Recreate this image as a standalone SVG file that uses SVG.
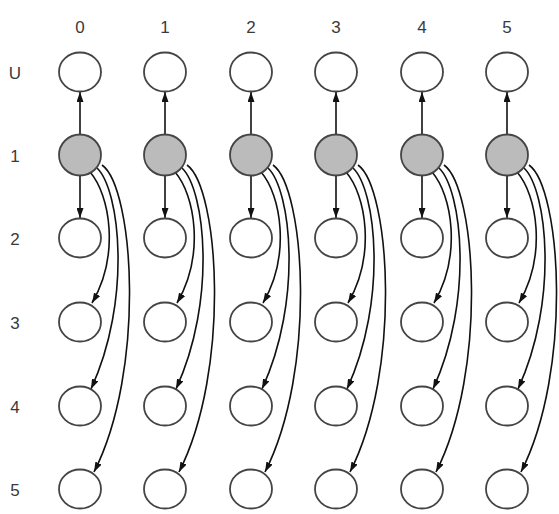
<svg xmlns="http://www.w3.org/2000/svg" width="559" height="514" viewBox="0 0 559 514">
  <defs>
    <marker id="arrow" markerUnits="userSpaceOnUse" markerWidth="10" markerHeight="7" refX="10" refY="3.5" orient="auto">
      <path d="M0,0 L10,3.5 L0,7 z" fill="#111"/>
    </marker>
    <style>
      .lbl { font-family: "Liberation Sans", Arial, sans-serif; font-size: 17px; fill: #3a3a3a; text-anchor: middle; }
      .node { fill: #fff; stroke: #444; stroke-width: 1.8; }
      .src { fill: #bbb; stroke: #444; stroke-width: 1.8; }
      .edge { fill: none; stroke: #111; stroke-width: 1.6; marker-end: url(#arrow); }
    </style>
    <!-- the five edges leaving a shaded node, drawn for column 0 -->
    <g id="fan">
      <path class="edge" d="M80,134 L80,92"/>
      <path class="edge" d="M80,175 L80,218"/>
      <path class="edge" d="M90,172 C110,195 120,255 92,303"/>
      <path class="edge" d="M97,168 C120,190 132,300 91,389"/>
      <path class="edge" d="M102,165 C134,188 146,370 94,472"/>
    </g>
  </defs>
  <rect width="559" height="514" fill="#fff"/>

  <!-- column headers -->
  <g id="col-labels">
    <text class="lbl" x="80" y="33">0</text>
    <text class="lbl" x="165" y="33">1</text>
    <text class="lbl" x="251" y="33">2</text>
    <text class="lbl" x="336" y="33">3</text>
    <text class="lbl" x="422" y="33">4</text>
    <text class="lbl" x="507" y="33">5</text>
  </g>

  <!-- row headers -->
  <g id="row-labels">
    <text class="lbl" x="15" y="79">U</text>
    <text class="lbl" x="15" y="162">1</text>
    <text class="lbl" x="15" y="245">2</text>
    <text class="lbl" x="15" y="329">3</text>
    <text class="lbl" x="15" y="413">4</text>
    <text class="lbl" x="15" y="496">5</text>
  </g>

  <!-- connectors: each shaded node points up to row U and down to rows 2-5 -->
  <g id="connectors">
    <use href="#fan" x="0"/>
    <use href="#fan" x="85"/>
    <use href="#fan" x="171"/>
    <use href="#fan" x="256"/>
    <use href="#fan" x="342"/>
    <use href="#fan" x="427"/>
  </g>

  <!-- nodes, one column per group -->
  <g id="col-0">
    <ellipse id="n0-U" class="node" cx="80" cy="72" rx="21" ry="19.5"/>
    <ellipse id="n0-1" class="src" cx="80" cy="155" rx="21" ry="20.5"/>
    <ellipse id="n0-2" class="node" cx="80" cy="238" rx="21" ry="19.5"/>
    <ellipse id="n0-3" class="node" cx="80" cy="322" rx="21" ry="19.5"/>
    <ellipse id="n0-4" class="node" cx="80" cy="406" rx="21" ry="19.5"/>
    <ellipse id="n0-5" class="node" cx="80" cy="489" rx="21" ry="19.5"/>
  </g>
  <g id="col-1">
    <ellipse id="n1-U" class="node" cx="165" cy="72" rx="21" ry="19.5"/>
    <ellipse id="n1-1" class="src" cx="165" cy="155" rx="21" ry="20.5"/>
    <ellipse id="n1-2" class="node" cx="165" cy="238" rx="21" ry="19.5"/>
    <ellipse id="n1-3" class="node" cx="165" cy="322" rx="21" ry="19.5"/>
    <ellipse id="n1-4" class="node" cx="165" cy="406" rx="21" ry="19.5"/>
    <ellipse id="n1-5" class="node" cx="165" cy="489" rx="21" ry="19.5"/>
  </g>
  <g id="col-2">
    <ellipse id="n2-U" class="node" cx="251" cy="72" rx="21" ry="19.5"/>
    <ellipse id="n2-1" class="src" cx="251" cy="155" rx="21" ry="20.5"/>
    <ellipse id="n2-2" class="node" cx="251" cy="238" rx="21" ry="19.5"/>
    <ellipse id="n2-3" class="node" cx="251" cy="322" rx="21" ry="19.5"/>
    <ellipse id="n2-4" class="node" cx="251" cy="406" rx="21" ry="19.5"/>
    <ellipse id="n2-5" class="node" cx="251" cy="489" rx="21" ry="19.5"/>
  </g>
  <g id="col-3">
    <ellipse id="n3-U" class="node" cx="336" cy="72" rx="21" ry="19.5"/>
    <ellipse id="n3-1" class="src" cx="336" cy="155" rx="21" ry="20.5"/>
    <ellipse id="n3-2" class="node" cx="336" cy="238" rx="21" ry="19.5"/>
    <ellipse id="n3-3" class="node" cx="336" cy="322" rx="21" ry="19.5"/>
    <ellipse id="n3-4" class="node" cx="336" cy="406" rx="21" ry="19.5"/>
    <ellipse id="n3-5" class="node" cx="336" cy="489" rx="21" ry="19.5"/>
  </g>
  <g id="col-4">
    <ellipse id="n4-U" class="node" cx="422" cy="72" rx="21" ry="19.5"/>
    <ellipse id="n4-1" class="src" cx="422" cy="155" rx="21" ry="20.5"/>
    <ellipse id="n4-2" class="node" cx="422" cy="238" rx="21" ry="19.5"/>
    <ellipse id="n4-3" class="node" cx="422" cy="322" rx="21" ry="19.5"/>
    <ellipse id="n4-4" class="node" cx="422" cy="406" rx="21" ry="19.5"/>
    <ellipse id="n4-5" class="node" cx="422" cy="489" rx="21" ry="19.5"/>
  </g>
  <g id="col-5">
    <ellipse id="n5-U" class="node" cx="507" cy="72" rx="21" ry="19.5"/>
    <ellipse id="n5-1" class="src" cx="507" cy="155" rx="21" ry="20.5"/>
    <ellipse id="n5-2" class="node" cx="507" cy="238" rx="21" ry="19.5"/>
    <ellipse id="n5-3" class="node" cx="507" cy="322" rx="21" ry="19.5"/>
    <ellipse id="n5-4" class="node" cx="507" cy="406" rx="21" ry="19.5"/>
    <ellipse id="n5-5" class="node" cx="507" cy="489" rx="21" ry="19.5"/>
  </g>
</svg>
